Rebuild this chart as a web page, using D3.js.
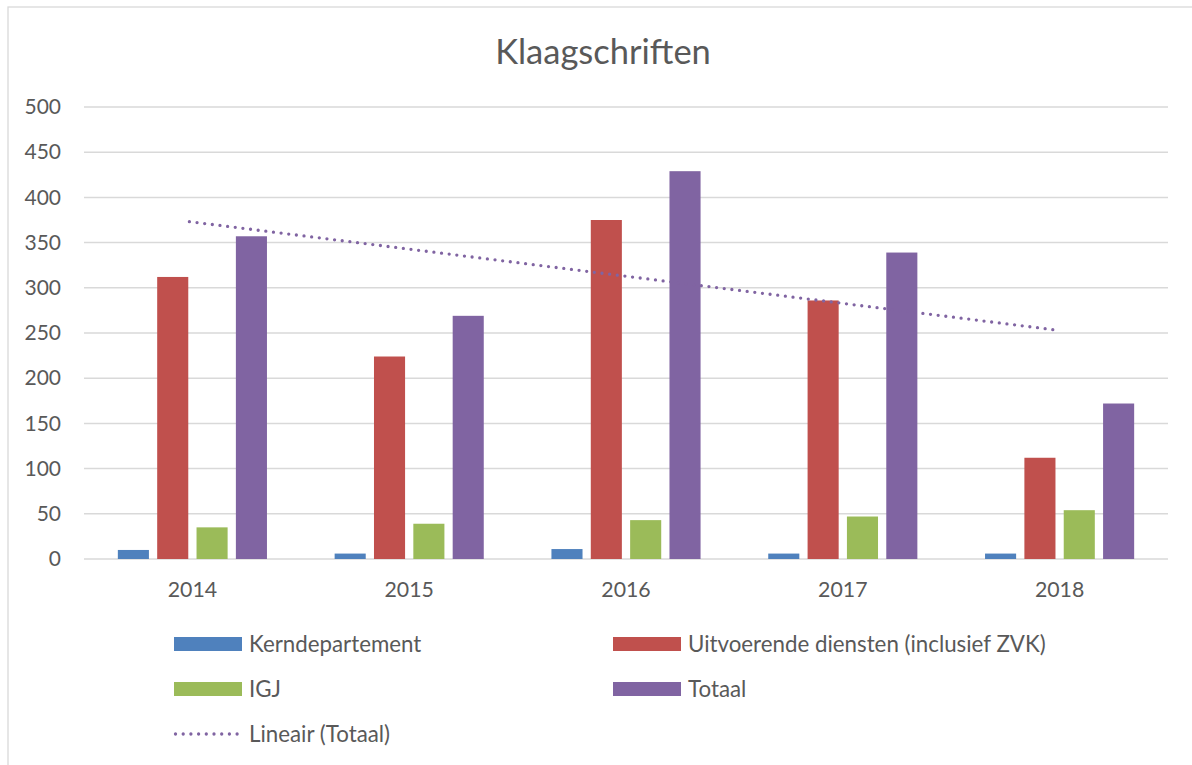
<!DOCTYPE html>
<html>
<head>
<meta charset="utf-8">
<script src="https://cdn.jsdelivr.net/npm/d3@7/dist/d3.min.js"></script>
<style>
  html, body { margin: 0; padding: 0; background: #fff; }
  svg { display: block; font-family: Lato, "Open Sans", sans-serif; }
</style>
</head>
<body>
<svg id="chart" width="1192" height="765"></svg>
<script>
const title = "Klaagschriften";
const years = ["2014", "2015", "2016", "2017", "2018"];
const seriesNames = ["Kerndepartement", "Uitvoerende diensten (inclusief ZVK)", "IGJ", "Totaal"];
const kerndepartement = [10, 6, 11, 6, 6];
const uitvoerende = [312, 224, 375, 286, 112];
const igj = [35, 39, 43, 47, 54];
const totaal = [357, 269, 429, 339, 172];
const yTicks = [0, 50, 100, 150, 200, 250, 300, 350, 400, 450, 500];
const trendName = "Lineair (Totaal)";
const colors = ["#4f81bd", "#c0504d", "#9bbb59", "#8064a2"];

const seriesValues = [kerndepartement, uitvoerende, igj, totaal];

const svg = d3.select("#chart");
const textColor = "#595959";

// chart frame
svg.append("rect").attr("x", 8).attr("y", 7).attr("width", 1200).attr("height", 800)
  .attr("fill", "#fff").attr("stroke", "#d9d9d9").attr("stroke-width", 1.3);

const x = d3.scaleBand().domain(years).range([84, 1168]).paddingInner(0).paddingOuter(0);
const xi = d3.scaleBand().domain(d3.range(seriesNames.length)).range([0, x.bandwidth()])
  .paddingInner(0.21).paddingOuter(0.86);
const y = d3.scaleLinear().domain([0, 500]).range([559, 107]);

// gridlines
svg.append("g").selectAll("line").data(yTicks).join("line")
  .attr("x1", 84).attr("x2", 1168)
  .attr("y1", d => y(d)).attr("y2", d => y(d))
  .attr("stroke", "#d9d9d9").attr("stroke-width", 1.5);

// y axis labels
const yAxis = d3.axisLeft(y).tickValues(yTicks).tickSize(0).tickPadding(0);
const yg = svg.append("g").attr("transform", "translate(61,0)").call(yAxis);
yg.select(".domain").remove();
yg.selectAll("text").attr("fill", textColor).attr("font-size", 21)
  .attr("font-family", "Lato, sans-serif");

// x axis labels
const xAxis = d3.axisBottom(x).tickSize(0).tickPadding(0);
const xg = svg.append("g").attr("transform", "translate(0,578)").call(xAxis);
xg.select(".domain").remove();
xg.selectAll("text").attr("fill", textColor).attr("font-size", 21.3)
  .attr("font-family", "Lato, sans-serif").attr("dy", "0.9em");

// bars
const rows = [];
years.forEach((yr, i) => seriesValues.forEach((vals, s) => rows.push({ yr, s, v: vals[i] })));
svg.append("g").selectAll("rect").data(rows).join("rect")
  .attr("x", d => x(d.yr) + xi(d.s))
  .attr("width", xi.bandwidth())
  .attr("y", d => y(d.v))
  .attr("height", d => y(0) - y(d.v))
  .attr("fill", d => colors[d.s]);

// linear trendline of Totaal (least squares)
const n = totaal.length;
const xs = d3.range(1, n + 1);
const mx = d3.mean(xs), my = d3.mean(totaal);
const slope = d3.sum(xs.map((xv, i) => (xv - mx) * (totaal[i] - my))) / d3.sum(xs.map(xv => (xv - mx) ** 2));
const intercept = my - slope * mx;
const trend = [
  { yr: years[0], v: intercept + slope * 1 },
  { yr: years[n - 1], v: intercept + slope * n }
];
svg.append("path")
  .datum(trend)
  .attr("d", d3.line().x(d => x(d.yr) + x.bandwidth() / 2 - 3).y(d => y(d.v)))
  .attr("fill", "none").attr("stroke", colors[3]).attr("stroke-width", 3.3)
  .attr("stroke-linecap", "round").attr("stroke-dasharray", "0 7.7");

// title
svg.append("text").attr("x", 603).attr("y", 64).attr("text-anchor", "middle")
  .attr("fill", textColor).attr("font-size", 34.5).text(title);

// legend
const legendItems = [
  { name: seriesNames[0], color: colors[0], col: 0, row: 0 },
  { name: seriesNames[1], color: colors[1], col: 1, row: 0 },
  { name: seriesNames[2], color: colors[2], col: 0, row: 1 },
  { name: seriesNames[3], color: colors[3], col: 1, row: 1 }
];
const colX = [174, 613];
const rowY = [644, 689, 734];
const lg = svg.append("g");
legendItems.forEach(it => {
  lg.append("rect").attr("x", colX[it.col]).attr("y", rowY[it.row] - 7)
    .attr("width", 68).attr("height", 14).attr("fill", it.color);
  lg.append("text").attr("x", colX[it.col] + 75).attr("y", rowY[it.row] + 7.5)
    .attr("fill", textColor).attr("font-size", 22.3).text(it.name);
});
lg.append("line").attr("x1", colX[0] + 1.5).attr("x2", colX[0] + 66)
  .attr("y1", rowY[2]).attr("y2", rowY[2])
  .attr("stroke", colors[3]).attr("stroke-width", 3.3)
  .attr("stroke-linecap", "round").attr("stroke-dasharray", "0 7.7");
lg.append("text").attr("x", colX[0] + 75).attr("y", rowY[2] + 7.5)
  .attr("fill", textColor).attr("font-size", 22.3).text(trendName);
</script>
</body>
</html>
